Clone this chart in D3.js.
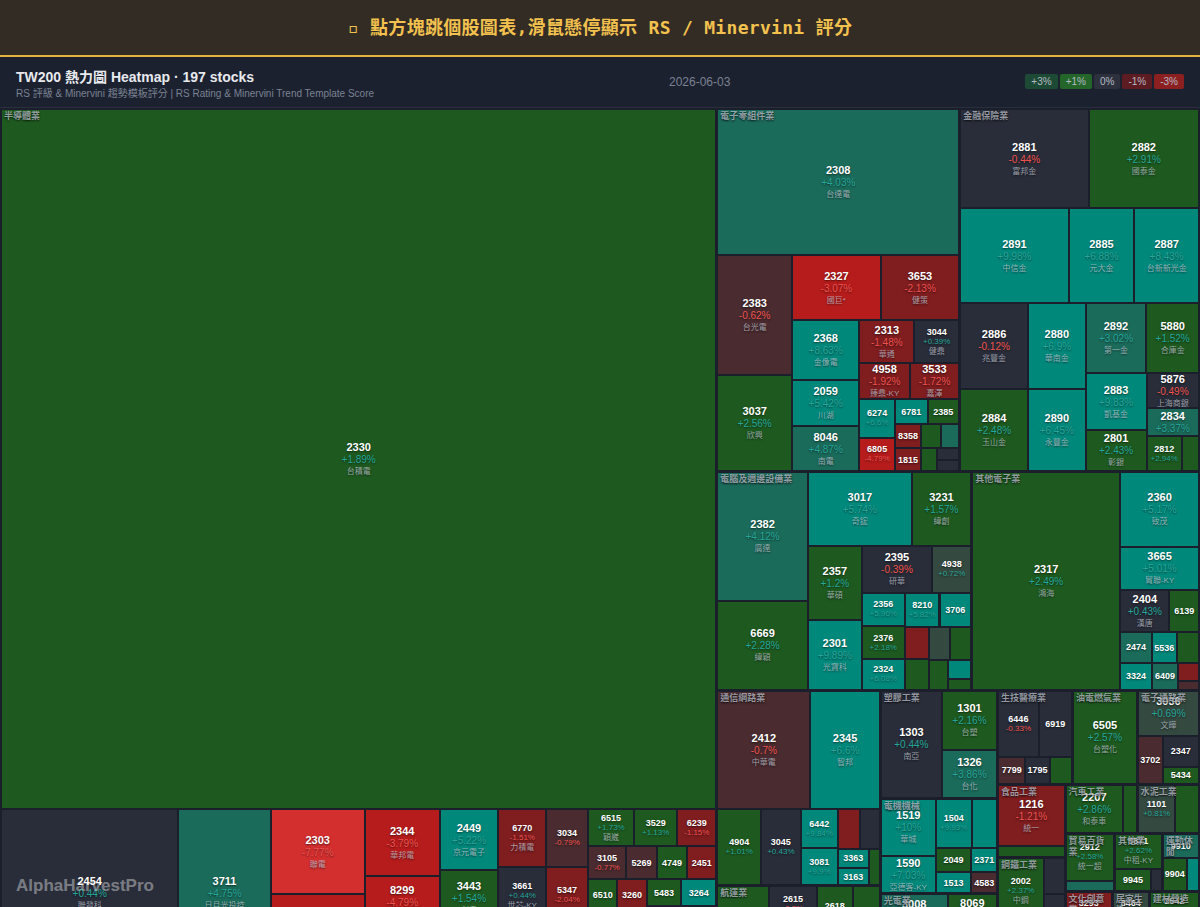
<!DOCTYPE html>
<html lang="zh-Hant">
<head>
<meta charset="utf-8">
<title>TW200 Heatmap</title>
<script src="https://cdn.jsdelivr.net/npm/d3@7"></script>
<style>
  html, body { margin: 0; padding: 0; }
  body {
    width: 1200px; height: 907px; overflow: hidden; background: #1b1f2b;
    font-family: "Liberation Sans", Arial, "Noto Sans CJK TC", sans-serif;
  }
  #banner {
    height: 55px; background: #332c25; border-bottom: 2px solid #e3b341;
    text-align: center; color: #f2c14e;
    font: bold 18px "DejaVu Sans Mono", "Noto Sans CJK TC", monospace;
    line-height: 55px; letter-spacing: 0.3px;
  }
  #head { position: relative; height: 50px; background: #1c2130; border-bottom: 1px solid #2a2f3d; }
  #head .title { position: absolute; left: 16px; top: 9px; font-size: 14px; font-weight: bold; color: #e8eaee; }
  #head .sub { position: absolute; left: 16px; top: 28px; font-size: 10px; color: #7a8190; }
  #head .date { position: absolute; left: 669px; top: 18px; font-size: 12px; color: #7a8190; }
  #legend { position: absolute; right: 16px; top: 17px; display: flex; gap: 2px; }
  #legend span { font-size: 10px; line-height: 15px; padding: 0 6px; border-radius: 2px; color: #b4bac4; }
  #map { position: absolute; left: 0; top: 108px; width: 1200px; height: 869px; }
  .tile {
    position: absolute; overflow: hidden; display: flex; flex-direction: column;
    align-items: center; justify-content: center; text-align: center; white-space: nowrap;
    text-shadow: 0 1px 2px rgba(0,0,0,0.55);
  }
  .tile span { display: block; }
  .sec {
    position: absolute; font-size: 9px; line-height: 11px; font-weight: 600;
    color: rgba(196,202,214,0.72); text-shadow: 0 1px 2px rgba(0,0,0,0.8);
    word-break: break-all; pointer-events: none;
  }
  #mark {
    position: absolute; left: 16px; top: 876px; font-size: 17px; font-weight: bold;
    color: rgba(255,255,255,0.4); line-height: 20px;
  }
</style>
</head>
<body>
<div id="banner">▫ 點方塊跳個股圖表,滑鼠懸停顯示 RS / Minervini 評分</div>
<div id="head">
  <div class="title">TW200 熱力圖 Heatmap · 197 stocks</div>
  <div class="sub">RS 評級 &amp; Minervini 趨勢模板評分 | RS Rating &amp; Minervini Trend Template Score</div>
  <div class="date">2026-06-03</div>
  <div id="legend"></div>
</div>
<div id="map"></div>
<div id="mark">AlphaHarvestPro</div>
<script>
// [code, name, change %, weight]
var semiconductor = [
  ["2330", "台積電", 1.89, 501200], ["2454", "聯發科", 0.44, 29559], ["3711", "日月光投控", 4.75, 15364],
  ["2303", "聯電", -7.77, 7990], ["", "", -3.8, 7708], ["2344", "華邦電", -3.79, 4950],
  ["8299", "群聯", -4.79, 3900], ["", "", 0.1, 3600], ["2449", "京元電子", 5.22, 3540],
  ["3443", "創意", 1.54, 3363], ["", "", 0.3, 2891], ["6770", "力積電", -1.51, 2780],
  ["3661", "世芯-KY", 0.44, 2760], ["", "", -0.2, 2440], ["3034", "", -0.79, 2408],
  ["5347", "", -2.04, 2300], ["", "", 1.2, 2250], ["6515", "穎崴", 1.73, 1700],
  ["3529", "", 1.13, 1590], ["6239", "", -1.15, 1441], ["3105", "", -0.77, 1254],
  ["5269", "", -0.6, 1010], ["4749", "", 1.3, 1000], ["2451", "", -1.4, 957],
  ["6510", "", 1.5, 950], ["", "", 0.3, 948], ["", "", -0.9, 946], ["3260", "", -1.3, 944],
  ["", "", 1.6, 942], ["", "", 0.2, 940], ["5483", "", 1.9, 938], ["3264", "", 5.5, 936],
  ["", "", -0.4, 934], ["", "", 2.2, 932], ["", "", 0.6, 760], ["", "", -1.2, 755],
  ["", "", 1.0, 750], ["", "", 0, 749]
];
var components = [
  ["2308", "台達電", 4.03, 35478], ["2383", "台光電", -0.62, 9010], ["3037", "欣興", 2.56, 7208],
  ["2327", "國巨*", -3.07, 5820], ["3653", "健策", -2.13, 5140], ["2368", "金像電", 8.63, 4060],
  ["2059", "川湖", 5.42, 3102], ["8046", "南電", 4.87, 3036], ["2313", "華通", -1.48, 2352],
  ["3044", "健鼎", 0.39, 1932], ["4958", "臻鼎-KY", -1.92, 1836], ["3533", "嘉澤", -1.72, 1800],
  ["6274", "", 6.6, 1365], ["6805", "", -4.79, 1190], ["6781", "", 5.8, 825], ["2385", "", 1.6, 800],
  ["8358", "", -1.4, 624], ["1815", "", -2.2, 598], ["", "", 1.5, 480], ["", "", 3.5, 432],
  ["", "", 2.0, 368], ["", "", 0.1, 253], ["", "", -0.2, 253]
];
var finance = [
  ["2881", "富邦金", -0.44, 12771], ["2882", "國泰金", 2.91, 10989], ["2891", "中信金", 9.98, 10355],
  ["2885", "元大金", 6.88, 6270], ["2887", "台新新光金", 8.43, 6175], ["2886", "兆豐金", -0.12, 5848],
  ["2884", "玉山金", 2.48, 5576], ["2880", "華南金", 6.9, 4988], ["2890", "永豐金", 6.45, 4756],
  ["2892", "第一金", 3.02, 4270], ["5880", "合庫金", 1.52, 3710], ["2883", "凱基金", 9.83, 3477],
  ["2801", "彰銀", 2.43, 2501], ["5876", "上海商銀", -0.49, 1855], ["2834", "", 3.37, 1484],
  ["2812", "", 2.94, 1225], ["", "", 1.8, 595]
];
var computers = [
  ["2382", "廣達", 4.12, 11739], ["6669", "緯穎", 2.28, 8099], ["3017", "奇鋐", 5.74, 7688],
  ["3231", "緯創", 1.57, 4398], ["2357", "華碩", 1.2, 4025], ["2301", "光寶科", 9.89, 3770],
  ["2395", "研華", -0.39, 3350], ["4938", "", 0.72, 1845], ["2356", "", 5.96, 1462],
  ["2376", "", 2.18, 1419], ["2324", "", 6.08, 1333], ["8210", "", 5.82, 1190], ["3706", "", 5.5, 1088],
  ["", "", -1.5, 792], ["", "", 1.3, 744], ["", "", 0.7, 693], ["", "", 1.6, 693], ["", "", 2.1, 558],
  ["", "", 5.5, 456], ["", "", 1.2, 240]
];
var otherElectronics = [
  ["2317", "鴻海", 2.49, 32446], ["2360", "致茂", 5.17, 5913], ["3665", "貿聯-KY", 5.01, 3483],
  ["2404", "漢唐", 0.43, 2050], ["6139", "", 1.4, 1230], ["2474", "", 3.6, 992], ["3324", "", 6.0, 837],
  ["5536", "", 5.3, 800], ["", "", 1.9, 705], ["6409", "", 4.2, 700], ["", "", -1.8, 378], ["", "", -0.8, 168]
];
var network = [
  ["2412", "中華電", -0.7, 11115], ["2345", "智邦", 6.6, 8307], ["4904", "", 1.01, 3380],
  ["3045", "", 0.43, 3050], ["6442", "", 9.84, 1480], ["3081", "", 9.9, 1400], ["", "", -1.6, 880],
  ["", "", 0.2, 800], ["3363", "", 5.5, 600], ["3163", "", 6.2, 540], ["", "", 1.5, 418]
];
var shipping = [
  ["", "", 1.5, 4732], ["2615", "萬海", -0.3, 2200], ["", "", 0, 2100], ["2618", "", 1.4, 1800],
  ["", "", 1.2, 1350], ["", "", 0.3, 1300], ["", "", 0.8, 1300]
];
var plastics = [["1303", "南亞", 0.44, 6649], ["1301", "台塑", 2.16, 3300], ["1326", "台化", 3.86, 2695]];
var machinery = [
  ["1519", "華城", 10, 3180], ["1590", "亞德客-KY", 7.03, 2100], ["1504", "", 9.93, 1815], ["", "", 7.5, 1260],
  ["2049", "", 2.2, 880], ["1513", "", 5.8, 770], ["2371", "", 6.0, 630], ["4583", "", -0.7, 550]
];
var optoelectronics = [["3008", "大立光", 3.5, 2970], ["", "", 0, 2574], ["8069", "元太", 2.0, 2100], ["", "", 0, 2000]];
var biotech = [["6446", "", -0.33, 2760], ["6919", "", 0.1, 2240], ["7799", "", -0.6, 756], ["1795", "", -0.2, 672], ["", "", 1.3, 616]];
var oilGas = [["6505", "台塑化", 2.57, 6110]];
var distribution = [["3036", "文曄", 0.69, 2852], ["3702", "", -0.9, 1200], ["2347", "", -0.44, 1147], ["5434", "", 1.6, 629]];
var food = [["1216", "統一", -1.21, 4216], ["", "", 1.1, 748]];
var steel = [["2002", "中鋼", 2.37, 3050], ["", "", 0.2, 780], ["", "", -0.1, 620]];
var chemical = [["", "", 0.5, 2000], ["", "", -0.4, 1560]];
var automobile = [["2207", "和泰車", 2.86, 2842], ["", "", 1.7, 686]];
var cement = [["1101", "", 0.81, 1862], ["", "", 1.4, 1176]];
var trading = [["2912", "統一超", 2.58, 2352], ["", "", 3.2, 528]];
var others = [["5871", "中租-KY", 2.62, 1728], ["9945", "", 1.2, 814], ["", "", 0, 242]];
var sports = [["9910", "", 3.43, 912], ["9904", "", 1.8, 840], ["", "", 5.6, 420]];
var culture = [["3293", "鈊象", -1.5, 2000]];
var textiles = [["", "", 0.3, 1100], ["", "", -0.2, 890]];
var household = [["8464", "億豐", 0.7, 1600]];
var rubber = [["", "", 0.4, 1545]];
var construction = [["2542", "興富發", 1.8, 1420]];
var cloud = [["", "", 1.0, 1420]];
var greenEnergy = [["", "", -0.6, 1410]];

var sectors = [
  ["半導體業", semiconductor], ["電子零組件業", components], ["金融保險業", finance],
  ["電腦及週邊設備業", computers], ["其他電子業", otherElectronics], ["通信網路業", network],
  ["航運業", shipping], ["塑膠工業", plastics], ["電機機械", machinery], ["光電業", optoelectronics],
  ["生技醫療業", biotech], ["油電燃氣業", oilGas], ["電子通路業", distribution], ["食品工業", food],
  ["鋼鐵工業", steel], ["化學工業", chemical], ["汽車工業", automobile], ["水泥工業", cement],
  ["貿易百貨業", trading], ["其他業", others], ["運動休閒", sports], ["文化創意業", culture],
  ["紡織纖維", textiles], ["居家生活", household], ["橡膠工業", rubber], ["建材營造", construction],
  ["數位雲端", cloud], ["綠能環保", greenEnergy]
];

var legendLabels = ["+3%", "+1%", "0%", "-1%", "-3%"];
var legendColors = ["#1c4a35", "#24662a", "#2d313d", "#5c1c22", "#8c2020"];

var w = 1200;
var h = 869;

var color = d3.scaleThreshold()
  .domain([-5, -3, -1, -0.5, 0.5, 1, 3, 5])
  .range(["#d32f2f", "#b71c1c", "#7f1d1f", "#4a2b2f", "#292d39", "#34493f", "#1e5a20", "#1b6b5b", "#00897b"]);

d3.select("#legend").selectAll("span")
  .data(legendLabels)
  .join("span")
  .style("background", function (d, i) { return legendColors[i]; })
  .text(function (d) { return d; });

var root = d3.hierarchy({
    children: sectors.map(function (s) {
      return {
        name: s[0],
        children: s[1].map(function (r) { return { code: r[0], label: r[1], pct: r[2], cap: r[3] }; })
      };
    })
  })
  .sum(function (d) { return d.cap || 0; })
  .sort(function (a, b) { return b.value - a.value; });

d3.treemap()
  .tile(d3.treemapSquarify.ratio(1))
  .size([w, h])
  .paddingOuter(1)
  .paddingInner(function (d) { return d.depth === 0 ? 1 : 2; })(root);

var map = d3.select("#map");

function fmt(p) { return (p >= 0 ? "+" : "") + (+p) + "%"; }

var tiles = map.selectAll("div.tile")
  .data(root.leaves())
  .join("div")
  .attr("class", "tile")
  .style("left", function (d) { return d.x0 + "px"; })
  .style("top", function (d) { return d.y0 + "px"; })
  .style("width", function (d) { return (d.x1 - d.x0) + "px"; })
  .style("height", function (d) { return (d.y1 - d.y0) + "px"; })
  .style("background", function (d) { return color(d.data.pct); });

tiles.each(function (d) {
  var tw = d.x1 - d.x0, th = d.y1 - d.y0;
  if (!d.data.code || tw < 21 || th < 14) return;
  var big = tw >= 47 && th >= 26;
  var showPct = big || (tw >= 32 && th >= 29) || (tw >= 36 && th >= 20);
  var showName = showPct && d.data.label && th >= 32;
  var el = d3.select(this);
  el.append("span")
    .style("font-size", big ? "11px" : "9px")
    .style("font-weight", "bold")
    .style("line-height", big ? "13px" : "10px")
    .style("color", "#ffffff")
    .text(d.data.code);
  if (showPct) {
    el.append("span")
      .style("font-size", big ? "10px" : "8px")
      .style("line-height", big ? "12px" : "10px")
      .style("color", d.data.pct >= 0 ? "#26a69a" : "#ef5350")
      .text(fmt(d.data.pct));
  }
  if (showName) {
    el.append("span")
      .style("font-size", "8px")
      .style("line-height", big ? "11px" : "10px")
      .style("color", "rgba(215,220,228,0.68)")
      .text(d.data.label);
  }
});

map.selectAll("div.sec")
  .data(root.children)
  .join("div")
  .attr("class", "sec")
  .style("left", function (d) { return (d.x0 + 3) + "px"; })
  .style("top", function (d) { return (d.y0 + 2) + "px"; })
  .style("width", function (d) { return Math.max(10, d.x1 - d.x0 - 6) + "px"; })
  .text(function (d) { return d.data.name; });
</script>
</body>
</html>
